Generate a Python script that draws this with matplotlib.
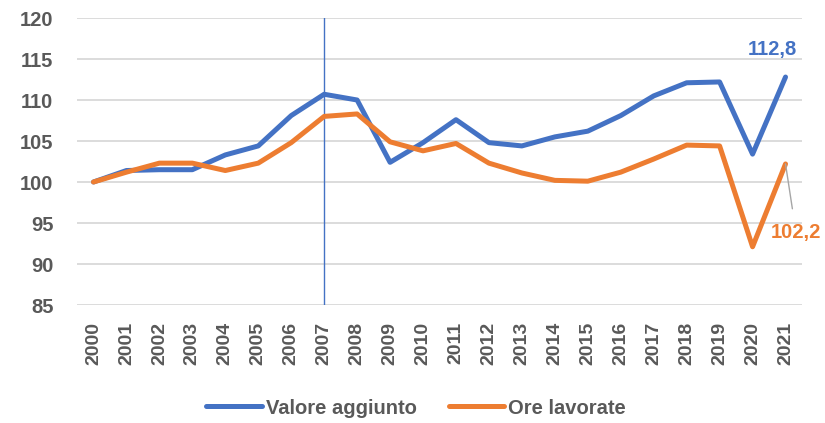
import numpy as np
import matplotlib.pyplot as plt

years = [str(y) for y in range(2000, 2022)]
valore_aggiunto = [100, 101.4, 101.5, 101.5, 103.3, 104.4, 108.1, 110.7, 110.0, 102.4,
                   104.8, 107.6, 104.8, 104.4, 105.5, 106.2, 108.1, 110.5, 112.1, 112.2,
                   103.4, 112.8]
ore_lavorate = [100, 101.2, 102.3, 102.3, 101.4, 102.3, 104.8, 108.0, 108.3, 104.9,
                103.8, 104.7, 102.3, 101.1, 100.2, 100.1, 101.2, 102.8, 104.5, 104.4,
                92.1, 102.2]

blue = '#4472C4'
orange = '#ED7D31'
grey = '#595959'

plt.rcParams['font.family'] = ['Liberation Sans', 'DejaVu Sans']
plt.rcParams['font.weight'] = 'bold'

fig = plt.figure(figsize=(8.25, 4.23), dpi=100)
ax = fig.add_axes([77/825, 1 - 305/423, (802-77)/825, (305-18)/423])

x = np.arange(len(years))
ax.plot(x, valore_aggiunto, color=blue, lw=3.6, label='Valore aggiunto', solid_capstyle='round', zorder=3)
ax.plot(x, ore_lavorate, color=orange, lw=3.6, label='Ore lavorate', solid_capstyle='round', zorder=3)

# vertical marker at 2007
ax.axvline(years.index('2007'), color=blue, lw=1, zorder=2)

ax.set_xlim(-0.5, len(years) - 0.5)
ax.set_ylim(85, 120)
ax.set_yticks(range(85, 121, 5))
ax.yaxis.grid(True, color='#D9D9D9', lw=1.3)
ax.set_axisbelow(True)
for s in ax.spines.values():
    s.set_visible(False)
ax.tick_params(length=0)
ax.set_xticks(x)
ax.set_xticklabels(years, rotation=90, fontsize=14, fontweight='bold', color=grey)
ax.tick_params(axis='x', pad=12)
for lab in ax.get_yticklabels():
    lab.set_fontsize(14.5)
    lab.set_fontweight('bold')
    lab.set_color(grey)
ax.tick_params(axis='y', pad=17)

# end labels
ax.annotate('112,8', xy=(x[-1], valore_aggiunto[-1]), xytext=(-9.5, 19.5), textcoords='offset points',
            ha='center', va='center', fontsize=14.5, fontweight='bold', color=blue)
ax.annotate('102,2', xy=(x[-1], ore_lavorate[-1]), xytext=(7.5, -49), textcoords='offset points',
            ha='center', va='center', fontsize=14.5, fontweight='bold', color=orange,
            arrowprops=dict(arrowstyle='-', color='#A6A6A6', lw=1, shrinkA=8, shrinkB=0))

leg = fig.legend(loc='center', bbox_to_anchor=(416/825, 1 - 408/423), ncol=2, frameon=False,
                 prop={'size': 14.5, 'weight': 'bold'}, handlelength=2.75, handletextpad=0.2,
                 columnspacing=1.6)
for t in leg.get_texts():
    t.set_color(grey)

fig.savefig('out.png', dpi=100)
